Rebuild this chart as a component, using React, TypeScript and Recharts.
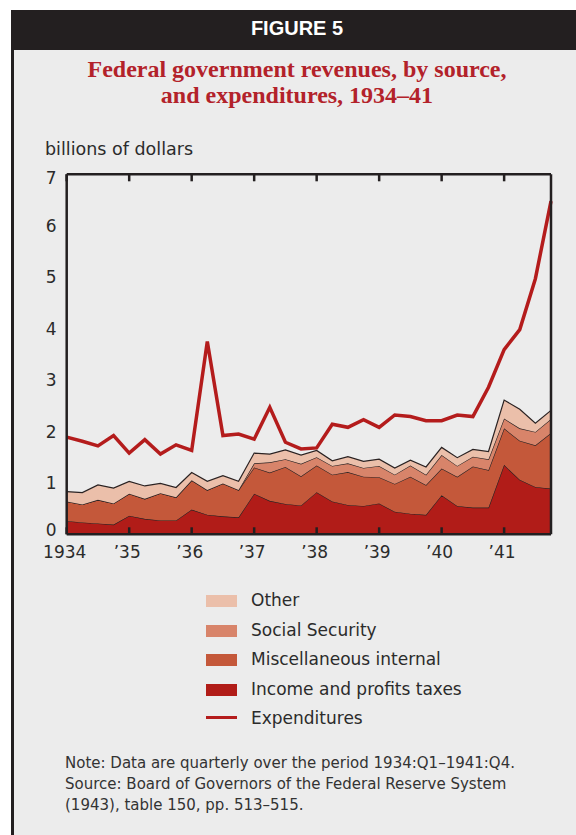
import React from 'react';
import { ComposedChart, Area, Line, XAxis, YAxis } from 'recharts';

const quarters = [
  '1934:Q1', '1934:Q2', '1934:Q3', '1934:Q4',
  '1935:Q1', '1935:Q2', '1935:Q3', '1935:Q4',
  '1936:Q1', '1936:Q2', '1936:Q3', '1936:Q4',
  '1937:Q1', '1937:Q2', '1937:Q3', '1937:Q4',
  '1938:Q1', '1938:Q2', '1938:Q3', '1938:Q4',
  '1939:Q1', '1939:Q2', '1939:Q3', '1939:Q4',
  '1940:Q1', '1940:Q2', '1940:Q3', '1940:Q4',
  '1941:Q1', '1941:Q2', '1941:Q3', '1941:Q4',
];

const yearStarts = ['1934:Q1', '1935:Q1', '1936:Q1', '1937:Q1', '1938:Q1', '1939:Q1', '1940:Q1', '1941:Q1'];
const yearLabels = ['1934', '\u201935', '\u201936', '\u201937', '\u201938', '\u201939', '\u201940', '\u201941'];
const yTicks = [0, 1, 2, 3, 4, 5, 6, 7];

// billions of dollars
const incomeTaxes = [0.26, 0.23, 0.21, 0.19, 0.36, 0.30, 0.27, 0.27, 0.48, 0.38, 0.35, 0.33, 0.79, 0.65, 0.59, 0.56, 0.82, 0.64, 0.57, 0.55, 0.60, 0.44, 0.40, 0.38, 0.76, 0.55, 0.52, 0.52, 1.35, 1.06, 0.92, 0.89];
const miscInternal = [0.38, 0.35, 0.46, 0.41, 0.43, 0.39, 0.53, 0.45, 0.57, 0.48, 0.64, 0.53, 0.51, 0.55, 0.72, 0.57, 0.52, 0.52, 0.64, 0.57, 0.51, 0.54, 0.72, 0.58, 0.52, 0.57, 0.80, 0.73, 0.71, 0.76, 0.81, 1.08];
const socialSecurity = [0, 0, 0, 0, 0, 0, 0, 0, 0, 0, 0, 0, 0.08, 0.20, 0.15, 0.24, 0.16, 0.17, 0.17, 0.17, 0.22, 0.18, 0.22, 0.20, 0.26, 0.21, 0.19, 0.21, 0.19, 0.24, 0.26, 0.27];
const otherRevenue = [0.19, 0.23, 0.29, 0.30, 0.24, 0.25, 0.19, 0.19, 0.15, 0.17, 0.15, 0.17, 0.20, 0.16, 0.18, 0.17, 0.13, 0.10, 0.13, 0.13, 0.13, 0.13, 0.10, 0.15, 0.15, 0.16, 0.14, 0.15, 0.36, 0.37, 0.17, 0.17];
const expenditures = [1.89, 1.81, 1.72, 1.92, 1.58, 1.84, 1.56, 1.74, 1.63, 3.75, 1.92, 1.95, 1.85, 2.47, 1.79, 1.66, 1.68, 2.14, 2.08, 2.23, 2.08, 2.32, 2.29, 2.21, 2.21, 2.32, 2.29, 2.86, 3.59, 3.98, 4.97, 6.48];

const seriesNames = ['Other', 'Social Security', 'Miscellaneous internal', 'Income and profits taxes', 'Expenditures'];

const COLORS = {
  income: '#b11c18',
  misc: '#c4583a',
  ss: '#d8846a',
  other: '#ebbfaa',
  line: '#b41c1c',
  ink: '#231f20',
  text: '#2b2b2b',
};

const data = quarters.map((label, i) => ({
  q: i,
  label,
  income: incomeTaxes[i],
  misc: miscInternal[i],
  ss: socialSecurity[i],
  other: otherRevenue[i],
  exp: expenditures[i],
}));

const xTickIdx = yearStarts.map((y) => quarters.indexOf(y));
const fmtYear = (v: number) => yearLabels[xTickIdx.indexOf(v)] ?? '';

const FONT = '"DejaVu Sans", sans-serif';

const YTick = (props: any) => {
  const { x, y, payload } = props;
  const v = payload.value;
  const shift = v === 7 ? 4 : v === 0 ? -4 : 0;
  return (
    <text x={x} y={y + shift} dy="0.36em" textAnchor="end" fill={COLORS.text} fontSize={17} fontFamily={FONT}>
      {v}
    </text>
  );
};

const XTick = (props: any) => {
  const { x, y, payload } = props;
  return (
    <text x={x - 2} y={y} dy="0.71em" textAnchor="middle" fill={COLORS.text} fontSize={17} fontFamily={FONT}>
      {fmtYear(payload.value)}
    </text>
  );
};

const EmptyTick = () => <g />;

const legendItems = [
  { name: seriesNames[0], color: COLORS.other, kind: 'box', cy: 600 },
  { name: seriesNames[1], color: COLORS.ss, kind: 'box', cy: 629.5 },
  { name: seriesNames[2], color: COLORS.misc, kind: 'box', cy: 659 },
  { name: seriesNames[3], color: COLORS.income, kind: 'box', cy: 688.5 },
  { name: seriesNames[4], color: COLORS.line, kind: 'line', cy: 717.5 },
];

export default function App() {
  const axisStroke = { stroke: COLORS.ink, strokeWidth: 2.5 };
  return (
    <div
      style={{
        position: 'fixed',
        left: 0,
        top: 0,
        width: 576,
        height: 835,
        background: '#ffffff',
        overflow: 'hidden',
        fontFamily: FONT,
      }}
    >
      {/* panel */}
      <div
        style={{
          position: 'absolute',
          left: 11,
          top: 10,
          width: 572,
          height: 840,
          background: '#ececec',
          borderLeft: `3px solid ${COLORS.ink}`,
          boxSizing: 'border-box',
        }}
      />
      {/* header */}
      <div
        style={{
          position: 'absolute',
          left: 11,
          top: 10,
          width: 572,
          height: 40,
          background: COLORS.ink,
          color: '#ffffff',
          fontFamily: '"Liberation Sans", Arial, sans-serif',
          fontWeight: 700,
          fontSize: 20,
          lineHeight: '36px',
          textAlign: 'center',
        }}
      >
        FIGURE 5
      </div>
      {/* title */}
      <div
        style={{
          position: 'absolute',
          left: 11,
          top: 56,
          width: 572,
          textAlign: 'center',
          fontFamily: '"Liberation Serif", "Times New Roman", serif',
          fontWeight: 700,
          fontSize: 24,
          lineHeight: '26px',
          color: '#b3222a',
        }}
      >
        Federal government revenues, by source,
        <br />
        and expenditures, 1934–41
      </div>
      {/* unit label */}
      <div
        style={{
          position: 'absolute',
          left: 45,
          top: 138.5,
          fontSize: 17.5,
          lineHeight: '20px',
          color: COLORS.text,
          whiteSpace: 'nowrap',
        }}
      >
        billions of dollars
      </div>

      <div style={{ position: 'absolute', left: 0, top: 0 }}>
        <ComposedChart
          width={576}
          height={580}
          data={data}
          margin={{ top: 174.3, right: 25, bottom: 15.7, left: 6.7 }}
        >
          <XAxis
            dataKey="q"
            type="number"
            domain={[0, 31]}
            ticks={xTickIdx}
            interval={0}
            height={30}
            tickLine={false}
            axisLine={false}
            tickSize={0}
            tickMargin={12}
            tick={<XTick />}
          />
          <XAxis
            xAxisId="bm"
            dataKey="q"
            type="number"
            domain={[0, 31]}
            ticks={xTickIdx}
            interval={0}
            orientation="bottom"
            mirror
            tick={<EmptyTick />}
            tickSize={7}
            tickLine={axisStroke}
            axisLine={axisStroke}
          />
          <XAxis
            xAxisId="tm"
            dataKey="q"
            type="number"
            domain={[0, 31]}
            ticks={xTickIdx}
            interval={0}
            orientation="top"
            mirror
            tick={<EmptyTick />}
            tickSize={7}
            tickLine={axisStroke}
            axisLine={axisStroke}
          />
          <YAxis
            type="number"
            domain={[0, 7]}
            ticks={yTicks}
            interval={0}
            width={60}
            tickLine={false}
            axisLine={false}
            tickSize={0}
            tickMargin={10}
            tick={<YTick />}
          />
          <YAxis
            yAxisId="lm"
            type="number"
            domain={[0, 7]}
            ticks={yTicks}
            interval={0}
            orientation="left"
            mirror
            tick={<EmptyTick />}
            tickSize={7}
            tickLine={axisStroke}
            axisLine={axisStroke}
          />
          <YAxis
            yAxisId="rm"
            type="number"
            domain={[0, 7]}
            ticks={yTicks}
            interval={0}
            orientation="right"
            mirror
            tick={<EmptyTick />}
            tickSize={7}
            tickLine={axisStroke}
            axisLine={axisStroke}
          />
          <Area
            type="linear"
            dataKey="income"
            name={seriesNames[3]}
            stackId="rev"
            fill={COLORS.income}
            fillOpacity={1}
            stroke="#2a2222"
            strokeWidth={1.2}
            isAnimationActive={false}
          />
          <Area
            type="linear"
            dataKey="misc"
            name={seriesNames[2]}
            stackId="rev"
            fill={COLORS.misc}
            fillOpacity={1}
            stroke="#2a2222"
            strokeWidth={1.2}
            isAnimationActive={false}
          />
          <Area
            type="linear"
            dataKey="ss"
            name={seriesNames[1]}
            stackId="rev"
            fill={COLORS.ss}
            fillOpacity={1}
            stroke="#2a2222"
            strokeWidth={1.2}
            isAnimationActive={false}
          />
          <Area
            type="linear"
            dataKey="other"
            name={seriesNames[0]}
            stackId="rev"
            fill={COLORS.other}
            fillOpacity={1}
            stroke="#2a2222"
            strokeWidth={1.2}
            isAnimationActive={false}
          />
          <Line
            type="linear"
            dataKey="exp"
            name={seriesNames[4]}
            stroke={COLORS.line}
            strokeWidth={3.5}
            dot={false}
            activeDot={false}
            isAnimationActive={false}
          />
        </ComposedChart>
      </div>

      {/* legend */}
      {legendItems.map((it) => (
        <div
          key={it.name}
          style={{
            position: 'absolute',
            left: 206,
            top: it.cy - 10,
            height: 20,
            display: 'flex',
            alignItems: 'center',
            whiteSpace: 'nowrap',
          }}
        >
          {it.kind === 'box' ? (
            <div style={{ width: 31, height: 12, background: it.color, marginTop: 2 }} />
          ) : (
            <div style={{ width: 31, height: 3, background: it.color }} />
          )}
          <span style={{ marginLeft: 14, fontSize: 17, lineHeight: '20px', color: COLORS.text }}>{it.name}</span>
        </div>
      ))}

      {/* note */}
      <div
        style={{
          position: 'absolute',
          left: 65,
          top: 752.5,
          fontSize: 15,
          lineHeight: '21px',
          color: '#333333',
          whiteSpace: 'nowrap',
        }}
      >
        Note: Data are quarterly over the period 1934:Q1–1941:Q4.
        <br />
        Source: Board of Governors of the Federal Reserve System
        <br />
        (1943), table 150, pp. 513–515.
      </div>
    </div>
  );
}
